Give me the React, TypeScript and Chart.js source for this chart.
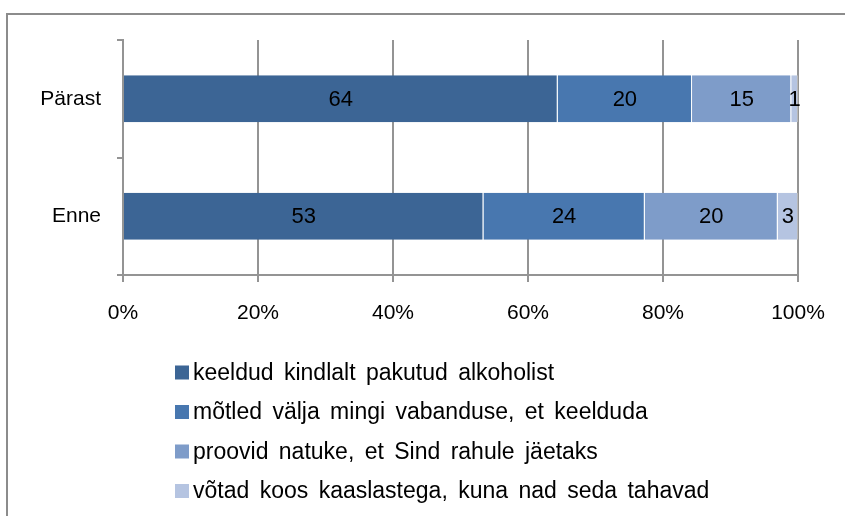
import React, { useEffect, useRef } from "react";
import { Chart, registerables } from "chart.js";

Chart.register(...registerables);

const categories = ["Pärast", "Enne"];
const seriesNames = [
  "keeldud kindlalt pakutud alkoholist",
  "mõtled välja mingi vabanduse, et keelduda",
  "proovid natuke, et Sind rahule jäetaks",
  "võtad koos kaaslastega, kuna nad seda tahavad",
];
// values per series: [Pärast, Enne]
const s1Values = [64.4, 53.4];
const s2Values = [19.9, 23.9];
const s3Values = [14.7, 19.7];
const s4Values = [1.0, 3.0];
const xTicks = [0, 20, 40, 60, 80, 100];

const colors = ["#3C6595", "#4877AF", "#7E9CC9", "#B5C4E1"];
const FONT = "'Liberation Sans', Arial, sans-serif";
const GRID = "#949494";

const dataLabelPlugin = {
  id: "dataLabels",
  afterDatasetsDraw(chart: any) {
    const ctx = chart.ctx;
    ctx.save();
    ctx.font = `22px ${FONT}`;
    ctx.fillStyle = "#000";
    ctx.textAlign = "center";
    ctx.textBaseline = "middle";
    chart.data.datasets.forEach((ds: any, i: number) => {
      const meta = chart.getDatasetMeta(i);
      meta.data.forEach((bar: any, j: number) => {
        const v = ds.data[j];
        const cx = (bar.x + bar.base) / 2;
        ctx.fillText(String(Math.round(v)), cx, bar.y + 1);
      });
    });
    ctx.restore();
  },
};

const legendPlugin = {
  id: "vertLegend",
  afterDraw(chart: any) {
    const ctx = chart.ctx;
    ctx.save();
    ctx.font = `23px ${FONT}`;
    try { (ctx as any).wordSpacing = "4px"; } catch (e) {}
    ctx.textAlign = "left";
    ctx.textBaseline = "middle";
    const startY = 372.5;
    const step = 39.5;
    chart.data.datasets.forEach((ds: any, i: number) => {
      const cy = startY + i * step;
      ctx.fillStyle = ds.backgroundColor;
      ctx.fillRect(175, cy - 7, 14, 14);
      ctx.fillStyle = "#000";
      ctx.fillText(ds.label, 193, cy + 1);
    });
    ctx.restore();
  },
};

export default function App() {
  const ref = useRef<HTMLCanvasElement | null>(null);
  useEffect(() => {
    if (!ref.current) return;
    const allValues = [s1Values, s2Values, s3Values, s4Values];
    const chart = new Chart(ref.current, {
      type: "bar",
      data: {
        labels: categories,
        datasets: allValues.map((vals, i) => ({
          label: seriesNames[i],
          data: vals,
          backgroundColor: colors[i],
          borderColor: "rgba(255,255,255,0.35)",
          borderWidth: { top: 0, right: 1, bottom: 0, left: 0 },
          categoryPercentage: 1,
          barPercentage: 0.4,
        })),
      },
      options: {
        indexAxis: "y",
        responsive: false,
        animation: false,
        events: [],
        layout: { padding: { top: 40, right: 47, bottom: 181, left: 0 } },
        plugins: { legend: { display: false }, tooltip: { enabled: false } },
        scales: {
          x: {
            type: "linear",
            stacked: true,
            min: 0,
            max: 100,
            afterBuildTicks(scale: any) {
              scale.ticks = xTicks.map((v) => ({ value: v }));
            },
            afterFit(scale: any) {
              scale.height = 60;
            },
            ticks: {
              callback: (v: any) => v + "%",
              font: { family: FONT, size: 21 },
              color: "#000",
              padding: 19,
              maxRotation: 0,
            },
            grid: { color: GRID, lineWidth: 2, tickLength: 7 },
            border: { display: true, color: GRID, width: 2 },
          },
          y: {
            stacked: true,
            afterFit(scale: any) {
              scale.width = 123;
            },
            ticks: {
              font: { family: FONT, size: 21 },
              color: "#000",
              padding: 16,
            },
            grid: { drawOnChartArea: false, color: GRID, lineWidth: 2, tickLength: 6, offset: true },
            border: { display: true, color: GRID, width: 2 },
          },
        },
      } as any,
      plugins: [dataLabelPlugin, legendPlugin],
    });
    return () => chart.destroy();
  }, []);

  return (
    <div style={{ position: "absolute", left: 0, top: 0, width: 845, height: 516, overflow: "hidden", background: "#fff" }}>
      <div
        style={{
          position: "absolute",
          left: 6,
          top: 13,
          width: 900,
          height: 600,
          border: "2px solid #8c8c8c",
          boxSizing: "border-box",
        }}
      />
      <canvas ref={ref} width={845} height={516} style={{ position: "absolute", left: 0, top: 0 }} />
    </div>
  );
}
